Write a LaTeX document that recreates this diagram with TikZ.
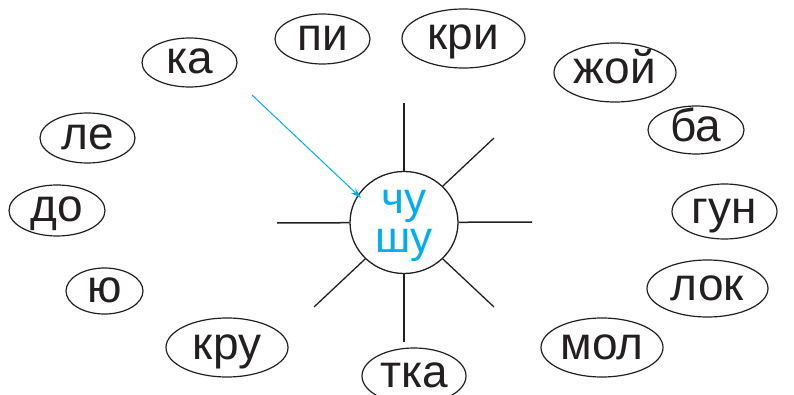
\documentclass[tikz,border=0pt]{standalone}
\usepackage{fontspec}
\setmainfont{Liberation Sans}
\usetikzlibrary{shapes.geometric,arrows.meta}
\definecolor{ink}{HTML}{231F20}
\definecolor{sky}{HTML}{00AEEF}
\newcommand\wrd[1]{\makebox[0pt]{#1}}
\tikzset{
  word/.style={ellipse, draw=ink, line width=1.2pt, inner sep=0pt, text=ink,
    font=\fontsize{46}{46}\selectfont, text height=23pt, text depth=0pt},
  ray/.style={draw=ink, line width=1.5pt},
  pointer/.style={draw=sky, line width=1pt, -{Stealth[length=11pt,width=7pt,inset=4pt]}}
}
\begin{document}
\begin{tikzpicture}[x=1pt,y=-1pt]
\useasboundingbox (0,0) rectangle (794,395);
% centre
\node[ellipse, draw=ink, line width=1.3pt, inner sep=0pt, minimum width=108pt, minimum height=102pt,
  text=sky, font=\fontsize{44}{39}\selectfont, text height=22pt, text depth=39pt]
  (c) at (404,222.5) {\wrd{\begin{tabular}[t]{@{}c@{}}чу\\шу\end{tabular}}};
% rays
\coordinate (rt) at (404,103);
\coordinate (rb) at (404,342);
\coordinate (rl) at (277,223);
\coordinate (rr) at (532,222);
\coordinate (rur) at (494,138);
\coordinate (rlr) at (494,307);
\coordinate (rll) at (314,307);
\draw[ray, line width=2pt] (c) -- (rt);
\draw[ray, line width=2pt] (c) -- (rb);
\draw[ray] (c) -- (rl);
\draw[ray] (c) -- (rr);
\draw[ray, line width=1.3pt] (c) -- (rur);
\draw[ray, line width=1.3pt] (c) -- (rlr);
\draw[ray, line width=1.3pt] (c) -- (rll);
% arrow
\coordinate (a0) at (252,95);
\coordinate (a1) at (361,198);
\draw[pointer] (a0) -- (a1);
% syllables
\node[word, minimum width=95pt, minimum height=49pt] (ka) at (189.5,62.5) {\wrd{ка}};
\node[word, minimum width=95pt, minimum height=50pt] (pi) at (322.5,39) {\wrd{пи}};
\node[word, minimum width=123pt, minimum height=59pt] (kri) at (463.5,38.5) {\wrd{кри}};
\node[word, minimum width=122pt, minimum height=59pt] (zhoy) at (615,72.5) {\wrd{жой}};
\node[word, minimum width=96pt, minimum height=48pt] (ba) at (696,130) {\wrd{ба}};
\node[word, minimum width=95pt, minimum height=50pt] (le) at (87.5,138) {\wrd{ле}};
\node[word, minimum width=96pt, minimum height=51pt] (do) at (57,210.5) {\wrd{до}};
\node[word, minimum width=105pt, minimum height=55pt] (gun) at (724.5,211.5) {\wrd{гун}};
\node[word, minimum width=77pt, minimum height=46pt] (yu) at (104.5,291) {\wrd{ю}};
\node[word, minimum width=121pt, minimum height=57pt] (lok) at (707.5,288.5) {\wrd{лок}};
\node[word, minimum width=122pt, minimum height=59pt] (kru) at (227,347.5) {\wrd{кру}};
\node[word, minimum width=122pt, minimum height=59pt] (mol) at (602,347.5) {\wrd{мол}};
\node[word, minimum width=104pt, minimum height=56pt] (tka) at (414,376) {\wrd{тка}};
\end{tikzpicture}
\end{document}
